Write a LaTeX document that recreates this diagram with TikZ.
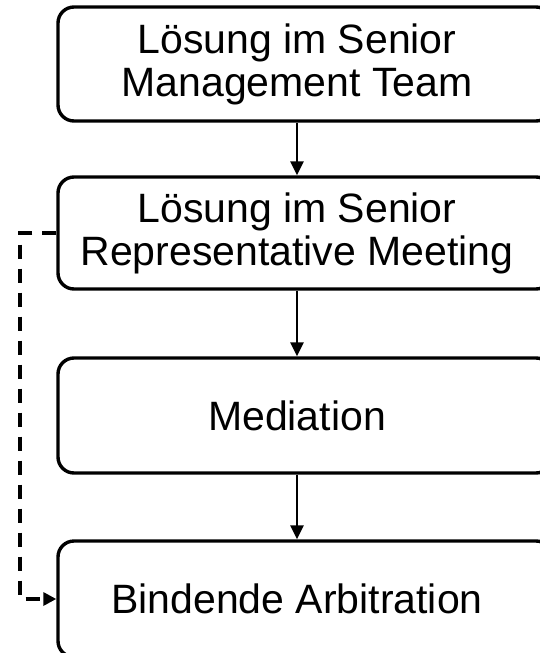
\documentclass[tikz,border=0pt]{standalone}
\usepackage{fontspec}
\setmainfont{Liberation Sans}
\usetikzlibrary{arrows.meta,calc}
\tikzset{
  box/.style={draw=black, line width=3.4pt, rounded corners=16pt, minimum width=494pt, inner sep=0pt},
  txt/.style={align=center, font=\fontsize{41pt}{43pt}\selectfont, inner sep=0pt},
  flow/.style={line width=2.8pt, -{Triangle[length=14pt,width=13pt]}},
  back/.style={line width=3.2pt, dash pattern=on 14pt off 10pt, -{Triangle[length=13pt,width=13pt]}}
}
\begin{document}
\begin{tikzpicture}[x=1pt,y=-1pt]
\useasboundingbox (0,0) rectangle (540,653);
\clip (0,0) rectangle (540,653);
\node[box, minimum height=114pt] (b1) at (305,64) {};
\node[txt] (t1) at (297,64) {Lösung im Senior\\Management Team};
\node[box, minimum height=112pt] (b2) at (305,233) {};
\node[txt] (t2) at (297,233) {Lösung im Senior\\Representative Meeting};
\node[box, minimum height=115pt] (b3) at (305,415.5) {};
\node[txt] (t3) at (297,415.5) {Mediation};
\node[box, minimum height=116pt] (b4) at (305,599) {};
\node[txt] (t4) at (297,599) {Bindende Arbitration};
\coordinate (c1) at (20,233);
\coordinate (c2) at (20,599);
\draw[flow] (t1 |- b1.south) -- (t1 |- b2.north);
\draw[flow] (t2 |- b2.south) -- (t2 |- b3.north);
\draw[flow] (t3 |- b3.south) -- (t3 |- b4.north);
\draw[back] (b2.west) -- (c1) -- (c2) -- (b4.west);
\end{tikzpicture}
\end{document}
